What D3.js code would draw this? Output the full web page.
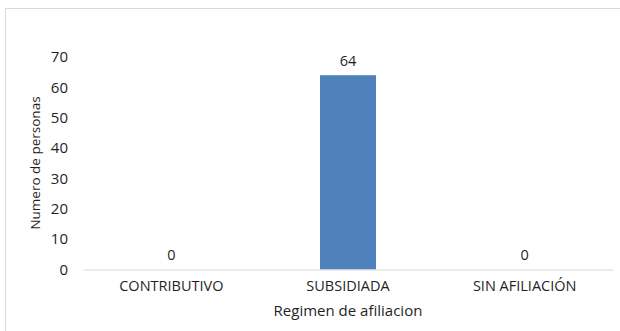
<!DOCTYPE html>
<html>
<head>
<meta charset="utf-8">
<script src="https://cdn.jsdelivr.net/npm/d3@7"></script>
<style>
  body { margin: 0; background: #fff; }
  svg text { font-family: "Open Sans", sans-serif; fill: #1f1f1f; }
</style>
</head>
<body>
<div id="chart"></div>
<script>
// datos
var categorias = ["CONTRIBUTIVO", "SUBSIDIADA", "SIN AFILIACIÓN"];
var valores = [0, 64, 0];
var ticksY = [0, 10, 20, 30, 40, 50, 60, 70];
var tituloX = "Regimen de afiliacion";
var tituloY = "Numero de personas";

var width = 620, height = 331;
var margin = { top: 57, right: 7, bottom: 61.5, left: 83 };

var svg = d3.select("#chart").append("svg")
    .attr("width", width)
    .attr("height", height);

// borde del grafico
svg.append("rect")
    .attr("x", 5.5).attr("y", 8.5)
    .attr("width", 700).attr("height", 400)
    .attr("fill", "none")
    .attr("stroke", "#d9d9d9");

var x = d3.scaleBand()
    .domain(categorias)
    .range([margin.left, width - margin.right])
    .padding(0);

var y = d3.scaleLinear()
    .domain([0, 70])
    .range([height - margin.bottom, margin.top]);

var anchoBarra = x.bandwidth() * 0.317;

// eje Y (solo etiquetas)
var ejeY = svg.append("g")
    .attr("transform", "translate(" + margin.left + ",0)")
    .call(d3.axisLeft(y).tickValues(ticksY).tickSize(0).tickPadding(15));
ejeY.select(".domain").remove();
ejeY.selectAll("text").attr("font-size", 15).attr("fill", "#1f1f1f");

// barras
svg.selectAll(".barra")
    .data(valores)
    .enter()
    .append("rect")
    .attr("class", "barra")
    .attr("x", (d, i) => x(categorias[i]) + x.bandwidth() / 2 - anchoBarra / 2)
    .attr("y", d => y(d))
    .attr("width", anchoBarra)
    .attr("height", d => y(0) - y(d))
    .attr("fill", "#4f81bd");

// eje X
var ejeX = svg.append("g")
    .attr("transform", "translate(0," + y(0) + ")")
    .call(d3.axisBottom(x).tickSize(0).tickPadding(11));
ejeX.select(".domain").attr("stroke", "#d9d9d9").attr("stroke-width", 1.2);
ejeX.selectAll("text").attr("font-size", 14.5).attr("fill", "#1f1f1f");

// etiquetas de valor
svg.selectAll(".valor")
    .data(valores)
    .enter()
    .append("text")
    .attr("class", "valor")
    .attr("x", (d, i) => x(categorias[i]) + x.bandwidth() / 2)
    .attr("y", d => y(d) - 9.5)
    .attr("text-anchor", "middle")
    .attr("font-size", 14.5)
    .text(d => d);

// titulos
svg.append("text")
    .attr("x", x.range()[0] + (x.range()[1] - x.range()[0]) / 2)
    .attr("y", 315.5)
    .attr("text-anchor", "middle")
    .attr("font-size", 15)
    .text(tituloX);

svg.append("text")
    .attr("transform", "translate(40,163) rotate(-90)")
    .attr("text-anchor", "middle")
    .attr("font-size", 13.5)
    .text(tituloY);
</script>
</body>
</html>
